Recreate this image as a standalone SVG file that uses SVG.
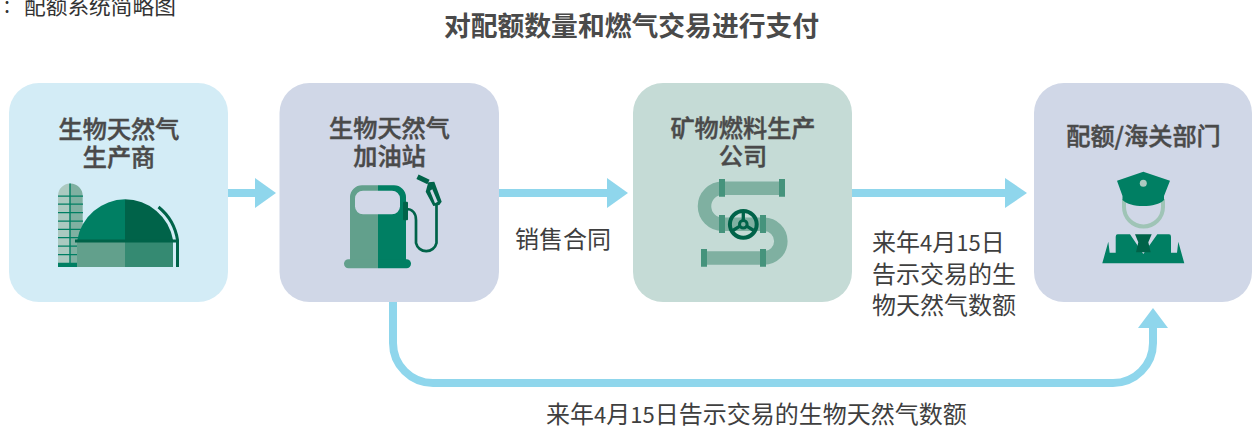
<svg xmlns="http://www.w3.org/2000/svg" width="1252" height="428" viewBox="0 0 1252 428">
<style>
text{font-family:"Noto Sans CJK SC","Noto Sans",sans-serif;fill:#4a4a4a}
.t{font-size:24.2px;font-weight:500;text-anchor:middle;stroke:#4a4a4a;stroke-width:.45px}
.l{font-size:24px;fill:#3f3f3f}
.d{font-size:22px}
.a{fill:#8fd6ec}
.c{fill:none;stroke:#8fd6ec;stroke-width:8}
.g1{fill:#007f63}.g2{fill:#006349}.g3{fill:#62a08c}.g4{fill:#358a72}.p{fill:#7fb0a1}.f{fill:#45937c}
</style>
<text x="4" y="13" style="font-size:21.700px;fill:#333">:</text>
<text x="24" y="14" style="font-size:21.700px;fill:#333">配额系统简略图</text>
<text x="631.500" y="36" text-anchor="middle" style="font-size:26.800px;font-weight:700">对配额数量和燃气交易进行支付</text>
<g id="connectors">
<path class="c" d="M228,193H256"/><path class="a" d="M255,178L276,193L255,208Z"/>
<path class="c" d="M499,193H608"/><path class="a" d="M607,178L628,193L607,208Z"/>
<path class="c" d="M852,193H1006"/><path class="a" d="M1005,178L1027,193L1005,208Z"/>
<path class="c" d="M393,302V343A40,40 0 0 0 433,383H1113A40,40 0 0 0 1153,343V327"/><path class="a" d="M1138,328L1153,308L1168,328Z"/>
</g>
<g id="label-contract"><text class="l" x="515" y="248">销售合同</text></g>
<g id="label-right"><text class="l" x="872" y="251">来年<tspan class="d">4</tspan>月<tspan class="d">15</tspan>日</text><text class="l" x="872" y="283">告示交易的生</text><text class="l" x="872" y="314">物天然气数额</text></g>
<g id="label-bottom"><text class="l" x="546" y="423">来年<tspan class="d">4</tspan>月<tspan class="d">15</tspan>日告示交易的生物天然气数额</text></g>
<g id="node-producer">
<rect x="9" y="83" width="219" height="219" rx="30" fill="#d3ecf6"/>
<text class="t" x="119" y="137.500">生物天然气</text><text class="t" x="119" y="166">生产商</text>
<path d="M58,267V196A12.300,12.300 0 0 1 70,183.500V267Z" fill="#acc9c0"/>
<path d="M70,267V183.500A12.300,12.300 0 0 1 82.700,196V267Z" fill="#7fb0a1"/>
<path class="g1" d="M69.300,183.500h1.400V263h-1.400zM58,195.500h25v1.200H58zM58,203.500h25v1.200H58zM58,212h25v1.200H58zM58,220.500h25v1.200H58zM58,228.700h25v1.200H58zM58,237h25v1.200H58zM58,245.500h25v1.200H58zM58,254h25v1.200H58zM58,262.700h25V267H58z"/>
<path class="g1" d="M77.300,240A48.800,48.800 0 0 1 125,199.300V240Z"/>
<path class="g2" d="M125,199.300A48.800,48.800 0 0 1 173,240H125Z"/>
<rect class="g3" x="77" y="242" width="48" height="25"/><rect class="g4" x="125" y="242" width="48" height="25"/>
<rect class="g2" x="75" y="239.500" width="103" height="3"/>
<path d="M158.500,207A53,53 0 0 1 177.500,240V267" fill="none" stroke="#006349" stroke-width="3"/>
</g>
<g id="node-station">
<rect x="279.500" y="83" width="219.500" height="219" rx="30" fill="#d0d7e7"/>
<text class="t" x="389.500" y="136.500">生物天然气</text><text class="t" x="389.500" y="164.500">加油站</text>
<path class="g3" d="M350,262V197A12,12 0 0 1 362,185.300H378V262Z"/>
<path class="g1" d="M378,185.300H394A12,12 0 0 1 406,197V262H378Z"/>
<path class="g3" d="M348.500,259.300H378V268.300H348.500A4.500,4.500 0 0 1 348.500,259.300Z"/>
<path class="g1" d="M378,259.300H406.500A4.500,4.500 0 0 1 406.500,268.300H378Z"/>
<rect x="355" y="190.700" width="45" height="23.600" rx="8" fill="#d0d7e7"/>
<path d="M406,209C412,209 416,213 416,220V243A10.500,10.500 0 0 0 436.500,243V205" fill="none" stroke="#006349" stroke-width="2.700"/>
<rect class="g2" x="403" y="201.700" width="5" height="18.500" rx="1"/>
<path d="M417.500,176.700L428.500,182" stroke="#006349" stroke-width="5" fill="none"/>
<path fill-rule="evenodd" class="g2" d="M428.300,182.300L434.300,181.700L441.700,201.700L439.300,205L433.300,206L425.700,191.700ZM430,190.700L435,203.300L437.700,201.700L432.300,189.300Z"/>
</g>
<g id="node-mining">
<rect x="633" y="83" width="219" height="219" rx="30" fill="#c5dbd6"/>
<text class="t" x="743" y="136.500">矿物燃料生产</text><text class="t" x="743" y="164.500">公司</text>
<path d="M726,188.300H722.500A18,18 0 0 0 722.500,224.300H764A16.700,16.700 0 0 1 764,258H706M725,188.300H779" fill="none" stroke="#7fb0a1" stroke-width="13.500"/>
<path class="f" d="M719,179h6v17.700h-6zM779,179h6v17.700h-6zM719,215h6v18h-6zM760,215h6v18h-6zM701,249h6v17.700h-6zM760,249h6v17.700h-6z"/>
<g fill="none" stroke="#006349">
<circle cx="743.300" cy="224.300" r="13.400" stroke-width="4"/>
<circle cx="743.300" cy="224.300" r="3.800" stroke-width="3"/>
<path d="M743.300,220V211M739.900,226.200L732,231M746.700,226.200L754.600,231" stroke-width="3.300"/>
</g>
</g>
<g id="node-customs">
<rect x="1034" y="83" width="218" height="219" rx="30" fill="#d0d7e7"/>
<text class="t" x="1143.500" y="144.500">配额/海关部门</text>
<path d="M1124,199V207A19.500,19.500 0 0 0 1163,207V199" fill="none" stroke="#9fc4b6" stroke-width="4"/>
<path class="g1" d="M1143.300,171.700L1170,180.700L1164,196V200C1160,204 1152,206 1143.300,206C1134,206 1127,204 1122.500,200V196L1117,180.700Z"/>
<circle cx="1143.300" cy="183.300" r="3.500" fill="#acc9c0"/>
<path class="g1" d="M1102.300,263.300L1108.300,241.700L1109.700,252.700H1115.700V236.700Q1115.700,234.300 1117.700,234.300H1130L1143.300,254L1157.300,234.300H1169Q1171,234.300 1171,236.700V252.700H1177L1178.300,241.700L1184.300,263.300Z"/>
<path class="g2" d="M1135,234.300H1151.700L1148.300,242.300L1150.700,252.300H1136L1138.300,242.300Z"/>
</g>
</svg>
